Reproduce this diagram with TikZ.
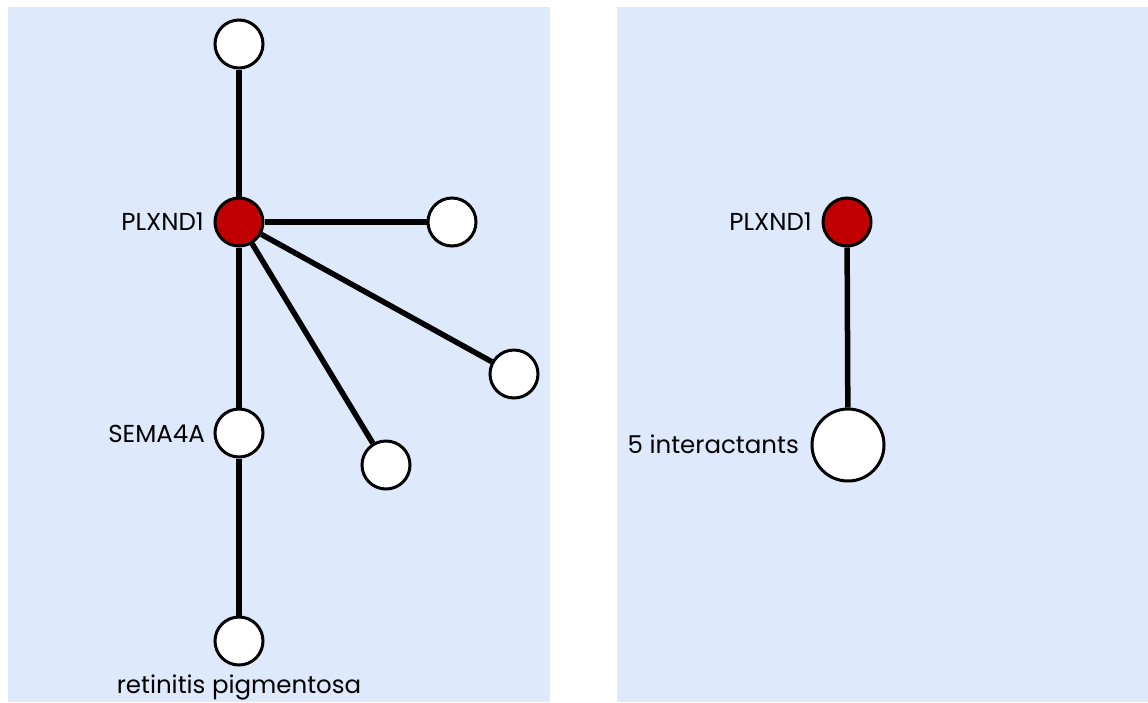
\documentclass[tikz,border=0pt]{standalone}
\usepackage{fontspec}
\setmainfont{Poppins}
\definecolor{panel}{RGB}{222,233,252}
\definecolor{hub}{RGB}{192,0,0}
\begin{document}
\begin{tikzpicture}[x=1pt,y=-1pt,
  nd/.style={circle,draw=black,line width=3pt,fill=white,minimum size=48pt,inner sep=0pt},
  hubnd/.style={nd,fill=hub},
  bignd/.style={nd,minimum size=72pt},
  lbl/.style={font=\fontsize{24.5}{28}\selectfont,text=black,inner sep=0pt},
  link/.style={line width=5.5pt,draw=black}]
\useasboundingbox (0,0) rectangle (1148,702);
\fill[white] (0,0) rectangle (1148,702);
\fill[panel] (8,7) rectangle (550,702);
\fill[panel] (617,7) rectangle (1148,702);
% left panel
\node[nd] (top) at (239,44) {};
\node[hubnd] (pl) at (239,222) {};
\node[nd] (r1) at (452,222) {};
\node[nd] (r2) at (514,374) {};
\node[nd] (r3) at (386,465) {};
\node[nd] (sema) at (239,433) {};
\node[nd] (rp) at (239,641) {};
\draw[link] (top) -- (pl);
\draw[link] (pl) -- (r1);
\draw[link] (pl) -- (r2);
\draw[link] (pl) -- (r3);
\draw[link] (pl) -- (sema);
\draw[link] (sema) -- (rp);
\node[lbl,anchor=east] (plL) at (204,222) {PLXND1};
\node[lbl,anchor=east] (semaL) at (205,434) {SEMA4A};
\node[lbl] (rpL) at (239,687) {retinitis pigmentosa};
% right panel
\node[hubnd] (pl2) at (847,222) {};
\node[bignd] (inter) at (848,445) {};
\draw[link] (pl2) -- (inter);
\node[lbl,anchor=east] (pl2L) at (812,222) {PLXND1};
\node[lbl,anchor=east] (interL) at (799,444) {5 interactants};
\end{tikzpicture}
\end{document}
